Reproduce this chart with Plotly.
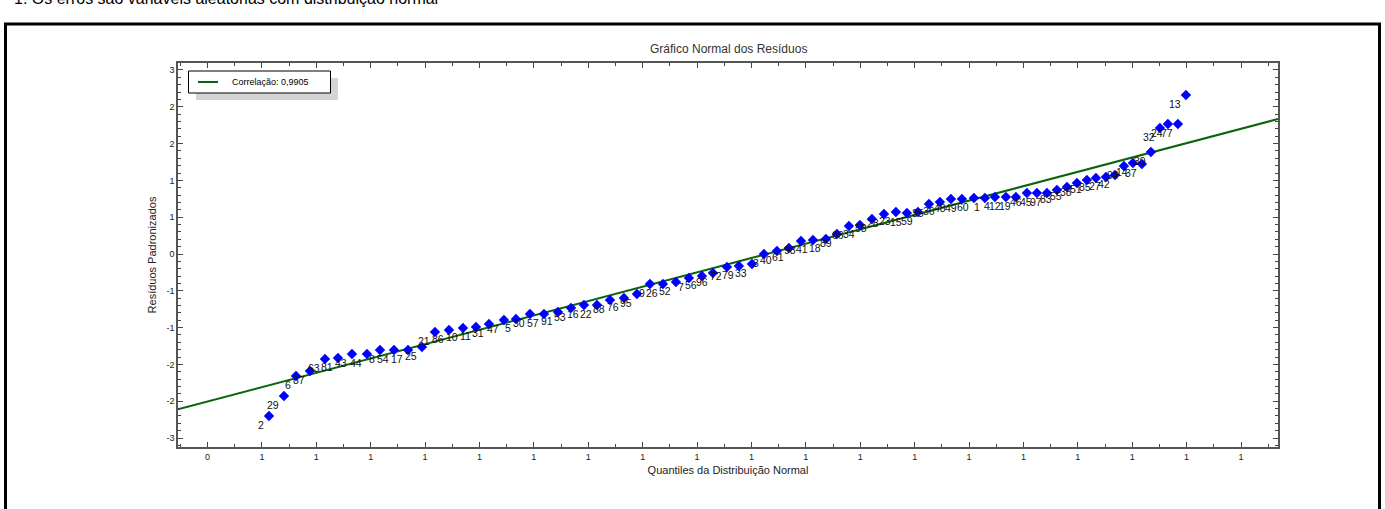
import plotly.graph_objects as go

# ---------------- data ----------------
quantis = [1.131, 1.406, 1.627, 1.884, 2.160, 2.399, 2.656, 2.932, 3.171, 3.428,
           3.686, 3.943, 4.182, 4.439, 4.697, 4.936, 5.175, 5.450, 5.671, 5.928,
           6.186, 6.443, 6.682, 6.921, 7.160, 7.399, 7.656, 7.895, 8.134, 8.373,
           8.612, 8.851, 9.090, 9.292, 9.550, 9.770, 10.009, 10.230, 10.469, 10.689,
           10.910, 11.131, 11.369, 11.572, 11.792, 11.994, 12.215, 12.436, 12.656, 12.858,
           13.061, 13.263, 13.465, 13.667, 13.869, 14.090, 14.292, 14.476, 14.678, 14.862,
           15.064, 15.248, 15.432, 15.616, 15.800, 15.983, 16.167, 16.333, 16.517, 16.682,
           16.847, 17.013, 17.178, 17.344, 17.509, 17.656, 17.840, 17.987]

residuos = [-2.201, -1.929, -1.658, -1.590, -1.427, -1.413, -1.359, -1.359, -1.304, -1.304,
            -1.304, -1.264, -1.060, -1.033, -1.005, -0.992, -0.951, -0.897, -0.883, -0.815,
            -0.815, -0.788, -0.734, -0.693, -0.693, -0.625, -0.598, -0.543, -0.408, -0.408,
            -0.380, -0.326, -0.299, -0.258, -0.177, -0.163, -0.136, 0.000, 0.041, 0.082,
            0.177, 0.190, 0.204, 0.272, 0.380, 0.394, 0.476, 0.543, 0.571, 0.557,
            0.571, 0.679, 0.707, 0.747, 0.747, 0.761, 0.761, 0.774, 0.774, 0.774,
            0.829, 0.829, 0.829, 0.870, 0.910, 0.965, 1.005, 1.033, 1.046, 1.073,
            1.196, 1.236, 1.223, 1.386, 1.712, 1.766, 1.766, 2.160]

rotulos = ["2", "29", "6", "87", "63", "81", "43", "44", "8", "54",
           "17", "25", "21", "86", "10", "11", "31", "47", "5", "30",
           "57", "91", "53", "16", "22", "88", "76", "95", "9", "26",
           "52", "7", "56", "96", "72", "79", "33", "3", "40", "61",
           "98", "41", "18", "89", "66", "34", "58", "28", "23", "15",
           "59", "35", "36", "48", "49", "60", "1", "4", "12", "19",
           "46", "45", "97", "83", "55", "38", "51", "85", "27", "42",
           "94", "14", "37", "39", "32", "24", "77", "13"]

reta_x = [-0.542, 19.68]
reta_y = [-2.11, 1.834]
correlacao = "Correlação: 0,9905"

x_ticks = [0, 1, 2, 3, 4, 5, 6, 7, 8, 9, 10, 11, 12, 13, 14, 15, 16, 17, 18, 19]
x_ticktext = ["0", "1", "1", "1", "1", "1", "1", "1", "1", "1",
              "1", "1", "1", "1", "1", "1", "1", "1", "1", "1"]
y_ticks = [2.5, 2.0, 1.5, 1.0, 0.5, 0.0, -0.5, -1.0, -1.5, -2.0, -2.5]
y_ticktext = ["3", "2", "2", "1", "1", "0", "-1", "-1", "-2", "-2", "-3"]

# ---------------- layout geometry ----------------
W, H = 1385, 509
L, R, T, B = 178, 107, 63, 62
PW, PH = W - L - R, H - T - B


def px(xp):
    return (xp - L) / PW


def py(yp):
    return (H - B - yp) / PH


FONT = "Liberation Sans, Arial, sans-serif"

fig = go.Figure()

fig.add_trace(go.Scatter(
    x=reta_x, y=reta_y, mode="lines",
    line=dict(color="#0a650a", width=2),
    name=correlacao, showlegend=False, hoverinfo="skip"))

fig.add_trace(go.Scatter(
    x=quantis, y=residuos, mode="markers",
    marker=dict(symbol="diamond", color="#0000ff", size=8, line=dict(width=0)),
    showlegend=False))

annotations = []
for xv, yv, t in zip(quantis, residuos, rotulos):
    annotations.append(dict(
        x=xv, y=yv, xref="x", yref="y", text=t, showarrow=False,
        xanchor="right", yanchor="middle", xshift=-3, yshift=-9,
        font=dict(family=FONT, size=10.5, color="#111111")))

# chart title
annotations.append(dict(x=0.5, y=py(49), xref="paper", yref="paper",
                        text="Gráfico Normal dos Resíduos", showarrow=False,
                        xanchor="center", yanchor="middle",
                        font=dict(family=FONT, size=12, color="#333333")))
# document text cut off at the top
annotations.append(dict(x=px(12), y=py(9), xref="paper", yref="paper",
                        text="1. Os erros são variáveis aleatórias com distribuição normal",
                        showarrow=False, xanchor="left", yanchor="bottom",
                        font=dict(family=FONT, size=16, color="#000000")))
# legend text
annotations.append(dict(x=px(230), y=py(82), xref="paper", yref="paper",
                        text=correlacao, showarrow=False,
                        xanchor="left", yanchor="middle",
                        font=dict(family=FONT, size=9, color="#000000")))

shapes = [
    # page frame
    dict(type="rect", xref="paper", yref="paper",
         x0=px(5.5), x1=px(1379.5), y0=py(560), y1=py(24),
         line=dict(color="#000000", width=3), fillcolor="rgba(0,0,0,0)", layer="below"),
    # legend shadow
    dict(type="rect", xref="paper", yref="paper",
         x0=px(196), x1=px(338), y0=py(100), y1=py(78),
         line=dict(width=0), fillcolor="#d4d4d4", layer="above"),
    # legend box
    dict(type="rect", xref="paper", yref="paper",
         x0=px(188.5), x1=px(330.5), y0=py(93), y1=py(71),
         line=dict(color="#000000", width=1), fillcolor="#ffffff", layer="above"),
    # legend line sample
    dict(type="line", xref="paper", yref="paper",
         x0=px(198), x1=px(218), y0=py(82), y1=py(82),
         line=dict(color="#0a650a", width=2), layer="above"),
]

axis_common = dict(
    showgrid=False, zeroline=False, showline=True, linecolor="#555555", linewidth=1.5,
    mirror="ticks", ticks="inside", ticklen=5, tickwidth=1, tickcolor="#444444",
    tickfont=dict(family=FONT, size=9, color="#222222"),
)

fig.update_layout(
    width=W, height=H,
    margin=dict(l=L, r=R, t=T, b=B),
    paper_bgcolor="#ffffff", plot_bgcolor="#ffffff",
    showlegend=False,
    annotations=annotations, shapes=shapes,
    xaxis=dict(
        range=[reta_x[0], reta_x[1]], tickmode="array",
        tickvals=x_ticks, ticktext=x_ticktext,
        minor=dict(tickvals=[v + 0.5 for v in [-1] + x_ticks], ticks="inside",
                   ticklen=3, tickcolor="#444444"),
        title=dict(text="Quantiles da Distribuição Normal", standoff=6,
                   font=dict(family=FONT, size=11, color="#222222")),
        **axis_common),
    yaxis=dict(
        range=[-2.622, 2.595], tickmode="array",
        tickvals=y_ticks, ticktext=y_ticktext,
        minor=dict(tickvals=[round(-2.6 + 0.1 * i, 2) for i in range(53)], ticks="inside",
                   ticklen=3, tickcolor="#444444"),
        title=dict(text="Resíduos Padronizados", standoff=8,
                   font=dict(family=FONT, size=11, color="#222222")),
        **axis_common),
)

fig.write_html("out.html")
